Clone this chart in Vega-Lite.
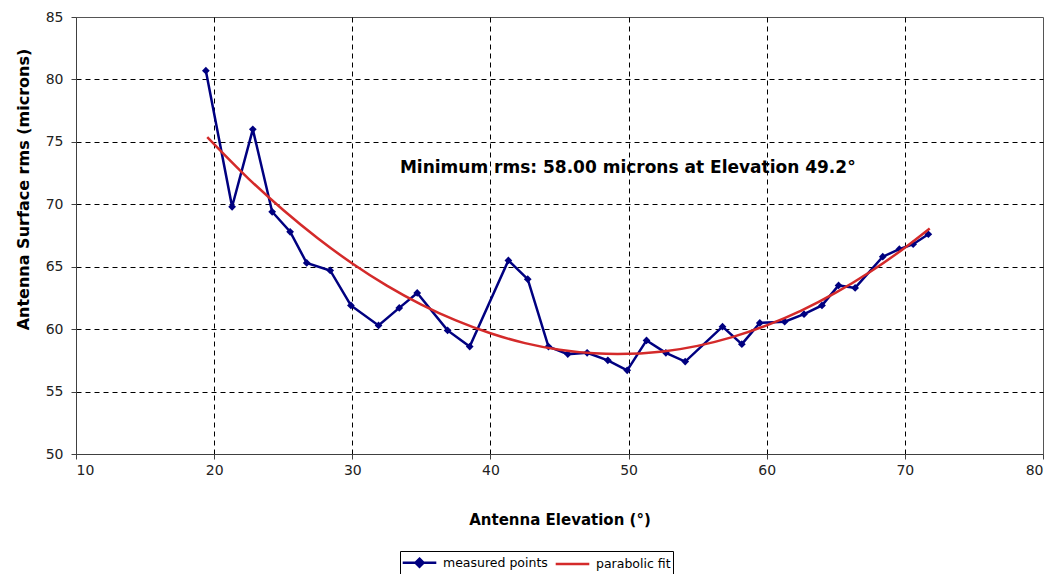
{
  "$schema": "https://vega.github.io/schema/vega-lite/v6.json",
  "width": 967,
  "height": 437,
  "autosize": {"type": "none"},
  "padding": {"left": 76, "top": 17, "right": 8, "bottom": 120},
  "background": "white",
  "config": {"view": {"stroke": "#555555", "strokeWidth": 1}, "font": "DejaVu Sans"},
  "datasets": {
    "measured": [
      {"series": "measured points", "x": 19.4, "y": 80.7},
      {"series": "measured points", "x": 21.3, "y": 69.8},
      {"series": "measured points", "x": 22.8, "y": 76.0},
      {"series": "measured points", "x": 24.2, "y": 69.4},
      {"series": "measured points", "x": 25.5, "y": 67.8},
      {"series": "measured points", "x": 26.7, "y": 65.3},
      {"series": "measured points", "x": 28.4, "y": 64.7},
      {"series": "measured points", "x": 29.9, "y": 61.9},
      {"series": "measured points", "x": 31.9, "y": 60.3},
      {"series": "measured points", "x": 33.4, "y": 61.7},
      {"series": "measured points", "x": 34.7, "y": 62.9},
      {"series": "measured points", "x": 36.9, "y": 59.9},
      {"series": "measured points", "x": 38.5, "y": 58.6},
      {"series": "measured points", "x": 41.3, "y": 65.5},
      {"series": "measured points", "x": 42.7, "y": 64.0},
      {"series": "measured points", "x": 44.2, "y": 58.6},
      {"series": "measured points", "x": 45.6, "y": 58.0},
      {"series": "measured points", "x": 47.0, "y": 58.1},
      {"series": "measured points", "x": 48.5, "y": 57.5},
      {"series": "measured points", "x": 49.9, "y": 56.7},
      {"series": "measured points", "x": 51.3, "y": 59.1},
      {"series": "measured points", "x": 52.7, "y": 58.1},
      {"series": "measured points", "x": 54.1, "y": 57.4},
      {"series": "measured points", "x": 56.8, "y": 60.2},
      {"series": "measured points", "x": 58.2, "y": 58.8},
      {"series": "measured points", "x": 59.5, "y": 60.5},
      {"series": "measured points", "x": 61.3, "y": 60.6},
      {"series": "measured points", "x": 62.7, "y": 61.2},
      {"series": "measured points", "x": 64.0, "y": 61.9},
      {"series": "measured points", "x": 65.2, "y": 63.5},
      {"series": "measured points", "x": 66.4, "y": 63.3},
      {"series": "measured points", "x": 68.4, "y": 65.8},
      {"series": "measured points", "x": 69.6, "y": 66.4},
      {"series": "measured points", "x": 70.6, "y": 66.8},
      {"series": "measured points", "x": 71.7, "y": 67.6}
    ],
    "fit": [
      {"series": "parabolic fit", "x": 19.5, "y": 75.38},
      {"series": "parabolic fit", "x": 22.5, "y": 72.04},
      {"series": "parabolic fit", "x": 25.0, "y": 69.54},
      {"series": "parabolic fit", "x": 27.5, "y": 67.28},
      {"series": "parabolic fit", "x": 30.0, "y": 65.26},
      {"series": "parabolic fit", "x": 32.5, "y": 63.49},
      {"series": "parabolic fit", "x": 35.0, "y": 61.97},
      {"series": "parabolic fit", "x": 37.5, "y": 60.70},
      {"series": "parabolic fit", "x": 40.0, "y": 59.67},
      {"series": "parabolic fit", "x": 42.5, "y": 58.88},
      {"series": "parabolic fit", "x": 45.0, "y": 58.35},
      {"series": "parabolic fit", "x": 47.5, "y": 58.06},
      {"series": "parabolic fit", "x": 49.2, "y": 58.00},
      {"series": "parabolic fit", "x": 52.5, "y": 58.21},
      {"series": "parabolic fit", "x": 55.0, "y": 58.66},
      {"series": "parabolic fit", "x": 57.5, "y": 59.36},
      {"series": "parabolic fit", "x": 60.0, "y": 60.30},
      {"series": "parabolic fit", "x": 62.5, "y": 61.48},
      {"series": "parabolic fit", "x": 65.0, "y": 62.92},
      {"series": "parabolic fit", "x": 67.5, "y": 64.60},
      {"series": "parabolic fit", "x": 70.0, "y": 66.52},
      {"series": "parabolic fit", "x": 71.8, "y": 68.06}
    ],
    "note": [
      {"x": 33.45, "y": 72.9, "label": "Minimum rms: 58.00 microns at Elevation 49.2°"}
    ]
  },
  "encoding": {
    "x": {
      "field": "x", "type": "quantitative",
      "scale": {"domain": [10, 80], "nice": false, "zero": false},
      "axis": {
        "values": [10, 20, 30, 40, 50, 60, 70, 80],
        "title": "Antenna Elevation (°)",
        "titleFont": "DejaVu Sans", "titleFontSize": 15, "titleFontWeight": "bold", "titleColor": "black",
        "titlePadding": 35,
        "labelFont": "DejaVu Sans", "labelFontSize": 14, "labelColor": "#222222", "labelPadding": 4,
        "domainColor": "#404040", "tickColor": "#404040", "tickSize": 5,
        "grid": true, "gridColor": "black", "gridDash": [5, 4], "gridWidth": 1,
        "gridOpacity": {"condition": {"test": "datum.value === 10 || datum.value === 80", "value": 0}, "value": 1}
      }
    },
    "y": {
      "field": "y", "type": "quantitative",
      "scale": {"domain": [50, 85], "nice": false, "zero": false},
      "axis": {
        "values": [50, 55, 60, 65, 70, 75, 80, 85],
        "title": "Antenna Surface rms (microns)",
        "titleFont": "DejaVu Sans", "titleFontSize": 16, "titleFontWeight": "bold", "titleColor": "black",
        "titleX": -53, "titleY": 172, "titleAngle": 270, "titleAlign": "center", "titleBaseline": "middle",
        "labelFont": "DejaVu Sans", "labelFontSize": 14, "labelColor": "#222222", "labelPadding": 8,
        "domainColor": "#404040", "tickColor": "#404040", "tickSize": 5,
        "grid": true, "gridColor": "black", "gridDash": [5, 4], "gridWidth": 1,
        "gridOpacity": {"condition": {"test": "datum.value === 50 || datum.value === 85", "value": 0}, "value": 1}
      }
    },
    "color": {
      "field": "series", "type": "nominal",
      "scale": {"domain": ["measured points", "parabolic fit"], "range": ["#000080", "#d42a2a"]},
      "legend": {
        "orient": "none", "legendX": 324, "legendY": 534, "direction": "horizontal",
        "title": null, "strokeColor": "black", "padding": 2, "fillColor": "white",
        "labelFont": "DejaVu Sans", "labelFontSize": 12.5, "labelColor": "black", "labelOffset": 14,
        "symbolSize": 256, "symbolStrokeWidth": 2.5, "symbolOffset": 8, "columnPadding": 2,
        "encode": {
          "symbols": {
            "update": {
              "shape": {"signal": "datum.value === 'measured points' ? 'M-2.1,0H2.1M0,-0.5L0.5,0L0,0.5L-0.5,0Z' : 'M-2.1,0H2.1'"},
              "fill": {"signal": "datum.value === 'measured points' ? '#000080' : 'transparent'"},
              "stroke": {"signal": "datum.value === 'measured points' ? '#000080' : '#d42a2a'"},
              "strokeWidth": {"value": 2.5}
            }
          }
        }
      }
    }
  },
  "layer": [
    {
      "data": {"name": "measured"},
      "mark": {"type": "line", "strokeWidth": 2.5, "point": {"shape": "diamond", "filled": true, "size": 60}}
    },
    {
      "data": {"name": "fit"},
      "mark": {"type": "line", "interpolate": "monotone", "strokeWidth": 2.5}
    },
    {
      "data": {"name": "note"},
      "mark": {"type": "text", "align": "left", "baseline": "middle", "fontWeight": "bold", "fontSize": 17, "font": "DejaVu Sans"},
      "encoding": {"text": {"field": "label"}, "color": {"value": "black"}}
    }
  ]
}
